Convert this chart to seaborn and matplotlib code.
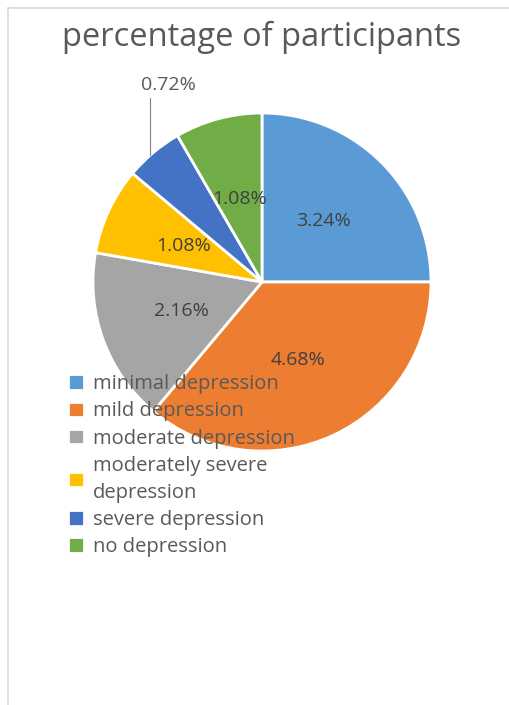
import matplotlib
matplotlib.use("Agg")
import matplotlib.pyplot as plt
import seaborn as sns
from matplotlib.lines import Line2D
import numpy as np

categories = ["minimal depression", "mild depression", "moderate depression",
              "moderately severe\ndepression", "severe depression", "no depression"]
values = [3.24, 4.68, 2.16, 1.08, 0.72, 1.08]
colors = ["#5B9BD5", "#ED7D31", "#A5A5A5", "#FFC000", "#4472C4", "#70AD47"]
title = "percentage of participants"

sns.set_theme(style="white")
plt.rcParams["font.family"] = ["Open Sans", "DejaVu Sans"]

W, H = 509, 705
fig = plt.figure(figsize=(W / 100, H / 100), dpi=100)
fig.patch.set_facecolor("white")
ax = fig.add_axes([0, 0, 1, 1])

# pixel-like data coordinates (y measured upward)
cx, cy, r = 262, H - 282, 169
labels = [f"{v:.2f}%" for v in values]
wedges, texts = ax.pie(values, colors=colors, startangle=90, counterclock=False,
                       center=(cx, cy), radius=r, labels=labels, labeldistance=0.51,
                       wedgeprops=dict(edgecolor="white", linewidth=2),
                       textprops=dict(color="#404040", fontsize=14, ha="center", va="center"))
ax.set_xlim(0, W)
ax.set_ylim(0, H)
ax.set_aspect("equal")
ax.axis("off")

# small slice gets an outside label with a leader line
i_small = int(np.argmin(values))
texts[i_small].set_text("")
ax.plot([150, 150], [H - 155, H - 98], color="#7F7F7F", lw=0.8)
ax.text(168, H - 85, labels[i_small], color="#595959", fontsize=14,
        ha="center", va="center")

ax.text(W / 2 + 7, H - 37, title, color="#595959", fontsize=23.5,
        ha="center", va="center")

leg = ax.legend(wedges, categories, loc="upper left",
                bbox_to_anchor=(60 / W, 1 - 366 / H), frameon=False,
                handlelength=0.8, handleheight=0.8, handletextpad=0.45,
                labelspacing=0.36, fontsize=14.5, borderaxespad=0)
for t in leg.get_texts():
    t.set_color("#595959")
    t.set_linespacing(1.45)

# panel border
fig.add_artist(Line2D([8 / W, 1], [1 - 8 / H, 1 - 8 / H], transform=fig.transFigure,
                      color="#D9D9D9", lw=1.2))
fig.add_artist(Line2D([8 / W, 8 / W], [0, 1 - 8 / H], transform=fig.transFigure,
                      color="#D9D9D9", lw=1.2))

fig.savefig("out.png", dpi=100, facecolor="white")
